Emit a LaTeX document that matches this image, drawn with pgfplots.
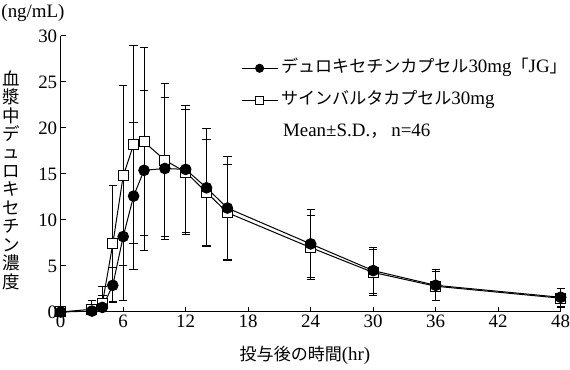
\documentclass[border=0pt]{standalone}
\usepackage{fontspec}
\setmainfont{Liberation Serif}
\newfontfamily\jp[Scale=0.9]{Noto Sans CJK JP}
\usepackage{pgfplots}
\pgfplotsset{compat=1.18}
\usepackage{pgfplotstable}

% t  mean  eplus  eminus
\pgfplotstableread{
t y ep em
0 0 0 0
3 0.1 0.3 0.1
4 0.5 1.3 0.5
5 2.9 1.9 1.9
6 8.2 7.0 7.0
7 12.6 8.0 8.0
8 15.4 8.7 8.7
10 15.6 7.7 7.7
12 15.5 6.9 6.9
14 13.5 6.4 6.4
16 11.3 5.6 5.6
24 7.4 3.7 3.7
30 4.5 2.5 2.5
36 2.9 1.7 1.7
48 1.6 1.0 1.0
}\jgdata

\pgfplotstableread{
t y ep em
0 0 0 0
3 0.3 0.9 0.3
4 0.9 1.9 0.9
5 7.4 6.3 6.3
6 14.8 9.8 9.8
7 18.2 10.8 10.8
8 18.5 10.2 10.2
10 16.5 8.3 8.3
12 15.2 6.8 6.8
14 13.0 5.8 5.8
16 10.8 5.2 5.2
24 7.0 3.5 3.5
30 4.3 2.5 2.5
36 2.8 1.6 1.6
48 1.5 1.0 1.0
}\cydata

\begin{document}
\begin{tikzpicture}
\path[use as bounding box] (0,0) rectangle (570bp,370bp);
\begin{axis}[
  at={(60.7bp,58bp)}, anchor=south west,
  scale only axis, width=500bp, height=276bp,
  xmin=0, xmax=48, ymin=0, ymax=30,
  xtick={0,6,...,48}, ytick={0,5,...,30},
  axis lines=left, axis line style={-, line width=1bp},
  tick align=inside, major tick length=5bp,
  tick style={line width=1bp, black},
  /pgf/number format/assume math mode=true,
  tick label style={font=\fontsize{19}{21}\selectfont},
  xticklabel style={yshift=1bp},
  clip=false,
  legend style={draw=none, fill=none, at={(axis cs:17.3,27.6)}, anchor=north west,
     inner sep=0pt, row sep=12bp,
     font=\fontsize{19}{21}\selectfont,
     nodes={inner xsep=3bp, inner ysep=1.5bp, text height=13bp, text depth=4bp}},
  legend cell align=left,
  legend image code/.code={\draw[mark repeat=2,mark phase=2,#1] plot coordinates {(0bp,0bp) (18bp,0bp) (36bp,0bp)};},
]
\addlegendimage{black, line width=1bp, mark=*, mark size=4bp, mark options={fill=black}}
\addlegendentry{{\jp デュロキセチンカプセル}30mg{\jp 「}JG{\jp 」}}
\addlegendimage{black, line width=1bp, mark=square*, mark size=3.8bp, mark options={fill=white, line width=0.9bp}}
\addlegendentry{{\jp サインバルタカプセル}30mg}
\addlegendimage{empty legend}
\addlegendentry{\hspace{2bp}Mean±S.D.{\jp ，}\hspace{4bp}n=46}

\addplot[black, line width=1bp, mark=square*, mark size=5bp,
  mark options={fill=white, line width=1bp},
  error bars/.cd, y dir=both, y explicit,
  error mark options={rotate=90, mark size=4.2bp, line width=1bp},
  error bar style={line width=1bp}]
  table[x=t, y=y, y error plus=ep, y error minus=em] {\cydata};

\addplot[black, line width=1bp, mark=*, mark size=5.3bp,
  mark options={fill=black},
  error bars/.cd, y dir=both, y explicit,
  error mark options={rotate=90, mark size=4.2bp, line width=1bp},
  error bar style={line width=1bp}]
  table[x=t, y=y, y error plus=ep, y error minus=em] {\jgdata};
\end{axis}
\node[font=\fontsize{19}{21}\selectfont] at (33bp,357bp) {(ng/mL)};
\node[font=\jp\fontsize{19.5}{18.5}\selectfont, align=center, inner sep=0pt] at (11bp,190bp)
  {血\\漿\\中\\デ\\ュ\\ロ\\キ\\セ\\チ\\ン\\濃\\度};
\node[font=\fontsize{19}{21}\selectfont] at (305bp,15bp) {{\jp 投与後の時間}(hr)};
\end{tikzpicture}
\end{document}
